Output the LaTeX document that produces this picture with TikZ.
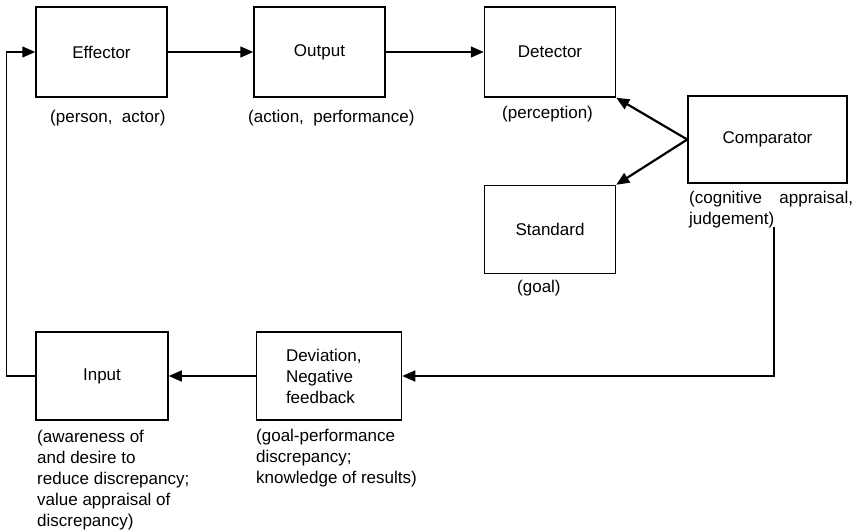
\documentclass[tikz,border=0pt]{standalone}
\usepackage{fontspec}
\setmainfont{Liberation Sans}
\usetikzlibrary{positioning,arrows.meta}

\begin{document}
\begin{tikzpicture}[x=1pt,y=-1pt,font=\fontsize{17}{21}\selectfont,
  block/.style={draw,line width=1.5pt,rectangle,inner sep=2pt,minimum width=131pt,minimum height=90pt},
  note/.style={draw=none,anchor=north west,inner sep=0pt,align=left},
  flow/.style={line width=1.5pt,-{Triangle[length=13pt,width=11pt]}}]
\useasboundingbox (0,0) rectangle (856,531);
\foreach \name/\x in {Effector/101.5,Output/319.5,Detector/550} {
   \node[block] (\name) at (\x,52) {\name};
}
\node[block, minimum height=88pt, below=87pt of Detector] (Standard) {Standard};
\node[block, minimum width=159pt, minimum height=87pt] (Comparator) at (767.5,139.5) {Comparator};
\node[block, minimum width=132pt, minimum height=88pt] (Input) at (102,376) {Input};
\node[block, minimum width=145pt, minimum height=88pt, text width=86pt, align=left, right=87pt of Input] (Deviation) {Deviation,\\Negative\\feedback};

% notes under the boxes
\node[note] (effnote) at (50,109.5) {(person,\ \ actor)};
\node[note] (outnote) at (248,109.5) {(action,\ \ performance)};
\node[note] (detnote) at (502,105.5) {(perception)};
\node[note, text width=164pt, align=justify] (compnote) at (689,190.5) {(cognitive appraisal, judgement)};
\node[note] (stdnote) at (517,279.5) {(goal)};
\node[note] (innote) at (37,429.5) {(awareness of\\and desire to\\reduce discrepancy;\\value appraisal of\\discrepancy)};
\node[note] (devnote) at (256,428.5) {(goal-performance\\discrepancy;\\knowledge of results)};

\foreach \i/\j in {Effector/Output,Output/Detector,Deviation/Input} {
  \draw[flow] (\i) -- (\j);
}
\draw[flow, line width=2.2pt] (Comparator.west) -- (Detector.south east);
\draw[flow, line width=2.2pt] (Comparator.west) -- (Standard.north east);
% feedback loop
\coordinate (fb) at (774,227);
\draw[flow] (fb) |- (Deviation.east);
\draw[flow] (Input.west) -- ++(-29,0) |- (Effector.west);
\end{tikzpicture}
\end{document}
